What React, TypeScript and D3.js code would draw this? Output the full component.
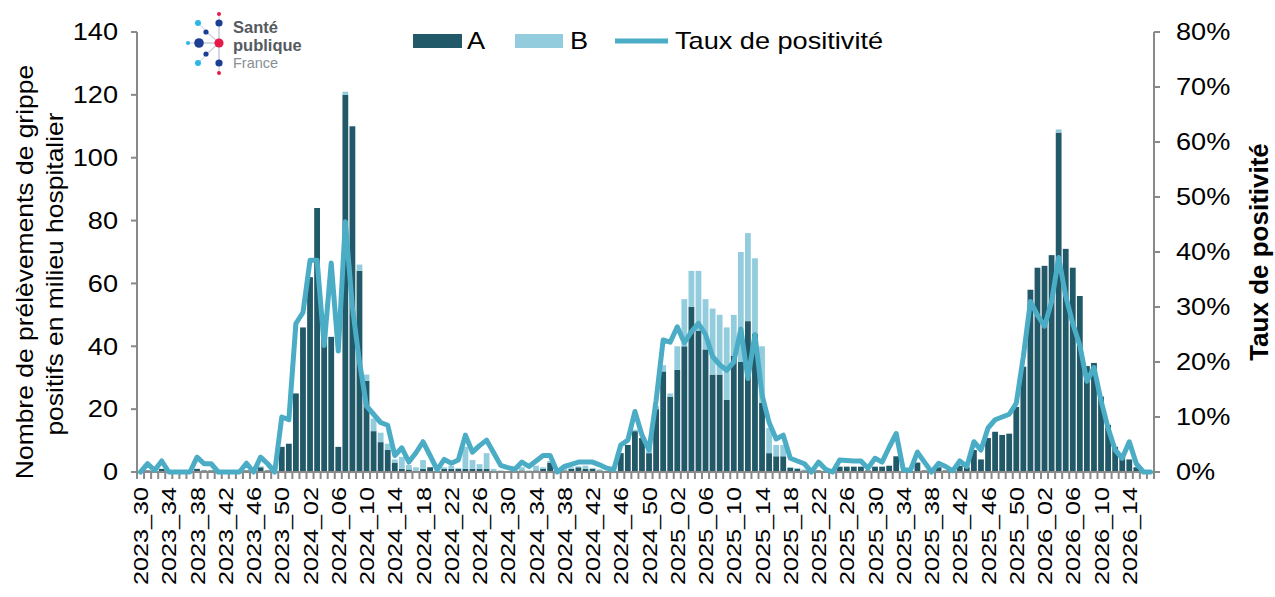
import * as d3 from "d3";

// weeks 2023_30 -> 2026_17
const weeksPerYear: Record<number, number> = { 2023: 52, 2024: 52, 2025: 52, 2026: 53 };
const startYear = 2023;
const startWeek = 30;
const nWeeks = 144;
const weeks: string[] = [];
{
  let yr = startYear;
  let wk = startWeek;
  for (let i = 0; i < nWeeks; i++) {
    weeks.push(`${yr}_${String(wk).padStart(2, "0")}`);
    wk++;
    if (wk > weeksPerYear[yr]) {
      yr++;
      wk = 1;
    }
  }
}

// positifs grippe A (dark)
const valuesA = [
  0, 0.5, 0, 1, 0, 0, 0, 0, 1, 0.5,
  0.5, 0, 0, 0, 0, 0.5, 0, 1.5, 0.5, 0,
  8, 9, 25, 46, 62, 84, 45, 43, 8, 120,
  110, 64, 29, 13, 9.5, 7, 3, 1, 0.8, 0,
  1, 1.5, 0, 1, 1, 1, 1, 1, 1, 1,
  0, 0, 0, 0, 0.5, 0, 0.5, 1, 3, 0,
  0.5, 1, 1.5, 1, 1, 0.5, 0, 0, 6, 8.6,
  13, 10.8, 6, 20, 32, 24, 32.5, 40, 52.5, 45,
  39, 31, 31, 23, 37, 35, 48, 44, 22, 6,
  5, 5, 1.3, 1, 0.5, 0, 0.5, 0, 0, 1.7,
  1.7, 1.7, 1.7, 0.5, 1.7, 1.7, 2, 5, 0, 0,
  3, 0.5, 0, 1.5, 0.5, 0, 2, 1.5, 7, 4,
  10.8, 12.8, 11.8, 12.2, 20.7, 33.5, 58, 65, 65.6, 69,
  108, 71, 65, 56, 33.7, 34.7, 24, 15, 8, 5,
  4, 1.5, 0, 0,
];

// positifs grippe B (light, stacked)
const valuesB = [
  0, 0, 0, 0, 0, 0, 0, 0, 0, 0,
  0, 0, 0, 0, 0, 0, 0, 0.3, 0, 0,
  0, 0, 0, 0, 0, 0, 0, 0, 0, 1,
  0, 2, 2, 4, 3, 2, 1, 3.8, 1.4, 1.5,
  2.8, 0, 0.3, 0.5, 1, 0.3, 7, 2.8, 1.5, 5,
  1, 0.5, 0.3, 0.5, 1, 0.5, 1.5, 0.5, 0.5, 0,
  0.8, 0.5, 0.3, 1, 0.3, 0.3, 0, 0, 0, 0,
  0.5, 0, 2.6, 1, 2, 1, 7.5, 15, 11.5, 19,
  16, 21, 19, 23, 13, 35, 28, 24, 18, 8,
  3.6, 3.6, 0.3, 0.3, 0.3, 0, 0, 0, 0, 0,
  0, 0, 0, 0, 0, 0, 0, 0, 0, 0,
  0, 0, 0, 0, 0, 0, 0, 0, 0, 0,
  0, 0, 0, 0, 0, 0, 0, 0, 0, 0,
  1, 0, 0, 0, 0, 0, 0, 0, 0, 0,
  0, 0, 0, 0,
];

// taux de positivité (%)
const positivity = [
  0, 1.5, 0.3, 2, 0, 0, 0, 0, 2.7, 1.5,
  1.5, 0, 0, 0, 0, 1.6, 0, 2.7, 1.5, 0,
  10, 9.5, 27, 29, 38.5, 38.5, 23, 38, 22, 45.5,
  30, 20, 12, 10.5, 9, 8.5, 3, 4.4, 1.8, 3.5,
  5.5, 3, 0.4, 2.3, 1.6, 2.2, 6.7, 3.6, 4.8, 5.8,
  3.5, 1.2, 0.8, 0.5, 1.8, 1, 2, 3, 3, 0,
  1, 1.4, 1.8, 1.8, 1.8, 1.3, 0.7, 0.4, 4.9, 5.8,
  11, 6.7, 4, 13, 24, 23.6, 26.4, 23.5, 25.5, 27,
  25, 21, 19.5, 18.5, 20, 26, 17, 25, 14, 9,
  6, 6.7, 2.5, 2, 1.5, 0, 1.8, 0.5, 0, 2.2,
  2.1, 2, 2, 0.7, 2.5, 1.8, 4.5, 7, 0.4, 0.3,
  3.6, 1.8, 0, 1.6, 1, 0.2, 2, 1, 5.5, 4,
  8, 9.5, 10, 10.5, 12.5, 21, 31, 28.5, 26.5, 31,
  39, 32, 27, 23, 16.5, 19, 13, 8, 4, 2.5,
  5.5, 1.5, 0, 0,
];

const leftTicks = [0, 20, 40, 60, 80, 100, 120, 140];
const rightTicks = [0, 0.1, 0.2, 0.3, 0.4, 0.5, 0.6, 0.7, 0.8];

const W = 1275;
const H = 597;
const plotL = 137;
const plotR = 1154;
const plotT = 32;
const plotB = 472;

const colA = "#215968";
const colB = "#93cddd";
const colLine = "#4bacc6";
const axisCol = "#898989";
const font = "'Liberation Sans', Arial, sans-serif";

function SText({ x, y, sx = 1.18, sy = 1, rot = 0, children, ...rest }: any) {
  return (
    <g transform={`translate(${x},${y}) scale(${sx},${sy}) rotate(${rot})`}>
      <text {...rest}>{children}</text>
    </g>
  );
}

export default function App() {
  const x = d3.scaleBand<string>().domain(weeks).range([plotL, plotR]).paddingInner(0.18).paddingOuter(0.09);
  const yL = d3.scaleLinear([0, 140], [plotB, plotT]);
  const yR = d3.scaleLinear([0, 0.8], [plotB, plotT]);

  const table = weeks.map((w, i) => ({ week: w, A: valuesA[i], B: valuesB[i] }));
  const series = d3.stack<any>().keys(["A", "B"])(table);
  const step = x.step();
  const center = (w: string) => (x(w) ?? 0) + x.bandwidth() / 2;

  const line = d3
    .line<number>()
    .x((_, i) => center(weeks[i]))
    .y((d) => yR(d / 100));

  const boundaries = d3.range(nWeeks + 1).map((i) => plotL + i * step);

  // logo dots
  const logoDots = [
    { cx: 219, cy: 14, r: 2, c: "#e6194b" },
    { cx: 219, cy: 23, r: 3.6, c: "#1c3f94" },
    { cx: 198, cy: 23, r: 3, c: "#29b6e8" },
    { cx: 206, cy: 32, r: 2.6, c: "#1c3f94" },
    { cx: 188, cy: 43, r: 2, c: "#29b6e8" },
    { cx: 199, cy: 43, r: 4.8, c: "#1c3f94" },
    { cx: 219, cy: 43, r: 4.6, c: "#e6194b" },
    { cx: 206, cy: 54, r: 2.6, c: "#1c3f94" },
    { cx: 198, cy: 63, r: 3, c: "#29b6e8" },
    { cx: 219, cy: 63, r: 3.6, c: "#1c3f94" },
    { cx: 219, cy: 73, r: 2, c: "#e6194b" },
  ];

  return (
    <svg width={W} height={H} style={{ position: "absolute", left: 0, top: 0, background: "#fff" }} fontFamily={font}>
      {/* bars */}
      {series.map((s) => (
        <g key={s.key} fill={s.key === "A" ? colA : colB}>
          {s.map((d: any, i: number) =>
            d[1] - d[0] > 0 ? (
              <rect
                key={i}
                x={x(weeks[i])}
                width={x.bandwidth()}
                y={yL(d[1])}
                height={yL(d[0]) - yL(d[1])}
              />
            ) : null
          )}
        </g>
      ))}

      {/* axes */}
      <g stroke={axisCol} strokeWidth={2} fill="none">
        <line x1={plotL} x2={plotL} y1={plotT} y2={plotB} />
        {leftTicks.map((t) => (
          <line key={t} x1={plotL - 6} x2={plotL} y1={yL(t)} y2={yL(t)} />
        ))}
        <line x1={plotR} x2={plotR} y1={plotT} y2={plotB} />
        {rightTicks.map((t) => (
          <line key={t} x1={plotR} x2={plotR + 6} y1={yR(t)} y2={yR(t)} />
        ))}
        <line x1={plotL} x2={plotR + 2} y1={plotB} y2={plotB} />
        {boundaries.map((b, i) => (
          <line key={i} x1={b} x2={b} y1={plotB} y2={plotB + 7} />
        ))}
      </g>

      {/* positivity line */}
      <path
        d={line(positivity) ?? ""}
        fill="none"
        stroke={colLine}
        strokeWidth={5}
        strokeLinejoin="round"
        strokeLinecap="round"
      />

      {/* tick labels */}
      {leftTicks.map((t) => (
        <SText key={t} x={118} y={yL(t)} fontSize={23} textAnchor="end" dy="0.36em" fill="#000">
          {t}
        </SText>
      ))}
      {rightTicks.map((t) => (
        <SText key={t} x={1176} y={yR(t)} fontSize={23} textAnchor="start" dy="0.36em" fill="#000">
          {d3.format(".0%")(t)}
        </SText>
      ))}
      {weeks.map((w, i) =>
        i % 4 === 0 ? (
          <SText key={w} x={center(w)} y={487} sx={1} sy={1.2} rot={-90} fontSize={21} textAnchor="end" dy="0.36em" fill="#000">
            {w}
          </SText>
        ) : null
      )}

      {/* axis titles */}
      <SText x={25} y={272} sx={1} sy={1.15} rot={-90} fontSize={23} textAnchor="middle" dy="0.36em" fill="#000">
        {"Nombre de prélèvements  de grippe"}
      </SText>
      <SText x={55} y={274} sx={1} sy={1.15} rot={-90} fontSize={23} textAnchor="middle" dy="0.36em" fill="#000">
        positifs en milieu hospitalier
      </SText>
      <SText x={1259} y={252} sx={1} rot={-90} fontSize={26} fontWeight="bold" textAnchor="middle" dy="0.36em" fill="#000">
        Taux de positivité
      </SText>

      {/* legend */}
      <rect x={413} y={34} width={49} height={14} fill={colA} />
      <SText x={467} y={49} fontSize={23} fill="#000">A</SText>
      <rect x={515} y={34} width={48} height={14} fill={colB} />
      <SText x={570} y={49} fontSize={23} fill="#000">B</SText>
      <line x1={615} x2={668} y1={41} y2={41} stroke={colLine} strokeWidth={5} />
      <SText x={675} y={49} fontSize={23} fill="#000">Taux de positivité</SText>

      {/* logo */}
      <g stroke="#c3c7d2" strokeWidth={0.9}>
        {logoDots.map((d, i) => (
          <line key={i} x1={219} y1={43} x2={d.cx} y2={d.cy} />
        ))}
      </g>
      {logoDots.map((d, i) => (
        <circle key={i} cx={d.cx} cy={d.cy} r={d.r} fill={d.c} />
      ))}
      <text x={233} y={33} fontSize={16.5} fontWeight="bold" fill="#555a60">Santé</text>
      <text x={233} y={51} fontSize={16.5} fontWeight="bold" fill="#555a60">publique</text>
      <text x={233} y={68} fontSize={14.5} fill="#8a8f96">France</text>
    </svg>
  );
}
